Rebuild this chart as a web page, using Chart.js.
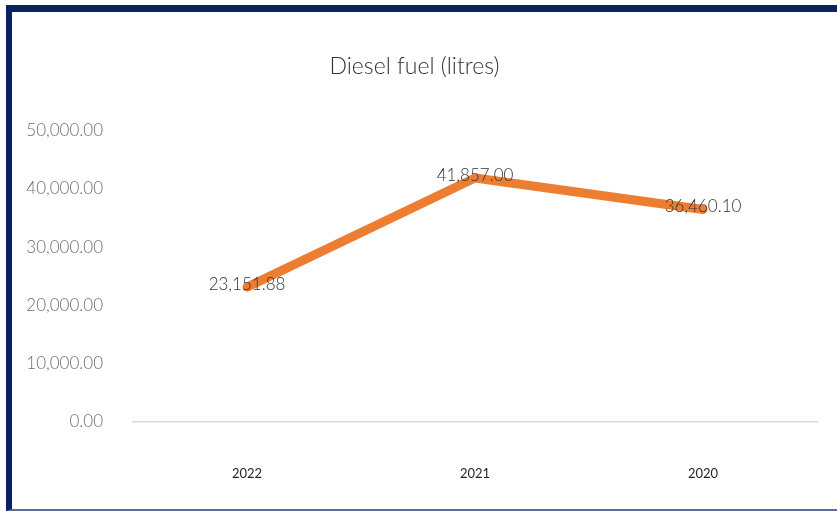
<!DOCTYPE html>
<html>
<head>
<meta charset="utf-8">
<script src="https://cdn.jsdelivr.net/npm/chart.js@4/dist/chart.umd.min.js"></script>
<style>
  html, body { margin: 0; padding: 0; background: #fff; overflow: hidden; }
  .frame {
    position: absolute; left: 6px; top: 5px;
    width: 831px; height: 506px;
    border-top: 7px solid #0c2260;
    border-left: 6px solid #0c2260;
    border-bottom: 2px solid #5a6e98;
    box-sizing: border-box;
  }
  .wrap { position: absolute; left: 12px; top: 12px; width: 825px; height: 495px; }
</style>
</head>
<body>
<div class="frame"></div>
<div class="wrap"><canvas id="fuelChart"></canvas></div>
<script>
const years = ['2022', '2021', '2020'];
const dieselLitres = [23151.88, 41857.00, 36460.10];
const yTicks = [0, 10000, 20000, 30000, 40000, 50000];

const fmt = v => v.toLocaleString('en-US', { minimumFractionDigits: 2, maximumFractionDigits: 2 });

// value labels sitting centred on each point
const pointLabels = {
  id: 'pointLabels',
  afterDatasetsDraw(chart) {
    const ctx = chart.ctx;
    const meta = chart.getDatasetMeta(0);
    ctx.save();
    ctx.font = '300 17px Lato';
    ctx.fillStyle = '#333333';
    ctx.textAlign = 'center';
    ctx.textBaseline = 'middle';
    meta.data.forEach((pt, i) => {
      ctx.fillText(fmt(chart.data.datasets[0].data[i]), pt.x, pt.y - 3);
    });
    ctx.restore();
  }
};

new Chart(document.getElementById('fuelChart').getContext('2d'), {
  type: 'line',
  data: {
    labels: years,
    datasets: [{
      data: dieselLitres,
      borderColor: '#ed7d31',
      borderWidth: 9,
      borderJoinStyle: 'round',
      borderCapStyle: 'round',
      pointRadius: 0,
      tension: 0
    }]
  },
  options: {
    responsive: true,
    maintainAspectRatio: false,
    animation: false,
    layout: { padding: { left: 0, right: 20, top: 0, bottom: 0 } },
    plugins: {
      legend: { display: false },
      tooltip: { enabled: false },
      title: {
        display: true,
        text: 'Diesel fuel (litres)',
        color: '#333333',
        font: { family: 'Lato', size: 23, weight: '300' },
        padding: { top: 41, bottom: 50 }
      }
    },
    scales: {
      x: {
        offset: true,
        grid: { display: false },
        border: { display: true, color: '#d9d9d9', width: 1.5 },
        ticks: { color: '#262626', font: { family: 'Lato', size: 13 }, padding: 36 },
        afterFit(scale) { scale.height = 85; }
      },
      y: {
        min: 0,
        max: 50000,
        grid: { display: false },
        border: { display: false },
        afterBuildTicks(scale) { scale.ticks = yTicks.map(v => ({ value: v })); },
        ticks: {
          color: '#6e6e6e',
          font: { family: 'Lato', size: 17, weight: '300' },
          padding: 22,
          callback: v => fmt(v)
        },
        afterFit(scale) { scale.width = 121; }
      }
    }
  },
  plugins: [pointLabels]
});
</script>
</body>
</html>
